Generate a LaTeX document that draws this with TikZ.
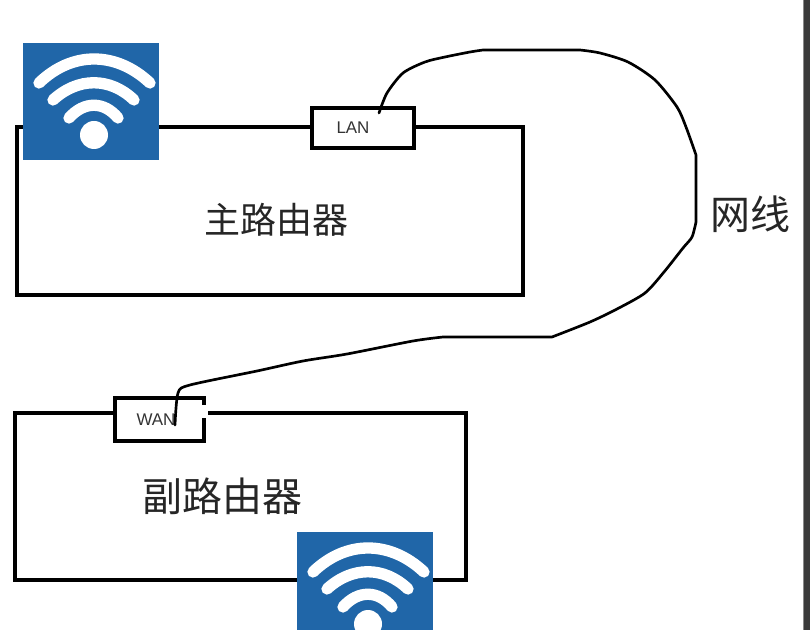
\documentclass[tikz,border=0pt]{standalone}
\usepackage{fontspec}
\newfontfamily\cjk{Noto Sans CJK SC}
\setmainfont{Liberation Sans}
\definecolor{wifiblue}{HTML}{2066A8}
\definecolor{portgray}{HTML}{333333}
\definecolor{stripdark}{HTML}{3A3A3A}
\definecolor{stripedge}{HTML}{8A8A8A}
\tikzset{
  routerbox/.style={draw=black,line width=3pt,fill=white,rectangle,inner sep=0pt},
  portbox/.style={draw=black,line width=3.4pt,fill=white,rectangle,inner sep=0pt},
  porttext/.style={text=portgray,font=\fontsize{12.7pt}{14pt}\selectfont,inner sep=0pt},
  bigtext/.style={text=black!85,inner sep=0pt},
  cable/.style={draw=black,line width=2pt,line cap=round,line join=round},
  wave/.style={draw=white,line width=8.5pt,line cap=round},
  wifiicon/.pic={
    \fill[wifiblue] (-71,-92) rectangle (65,25);
    \fill[white] (0,0) circle (14);
    \draw[wave] (-55,-52) .. controls (-22,-84) and (22,-84) .. (56,-52);
    \draw[wave] (-41,-35) .. controls (-16,-58) and (16,-58) .. (40,-35);
    \draw[wave] (-25,-17) .. controls (-10,-34) and (10,-34) .. (24,-17);
  }
}
\begin{document}
\begin{tikzpicture}[x=0.75pt,y=-0.75pt]
\useasboundingbox (0,0) rectangle (810,630);
\clip (0,0) rectangle (810,630);
\fill[white] (0,0) rectangle (810,630);
\fill[stripdark] (803,0) rectangle (810,630);
\fill[stripedge] (803,0) rectangle (804,630);
% routers
\node[routerbox,minimum width=379.5pt,minimum height=126pt] (mainrouter) at (270,211) {};
\node[routerbox,minimum width=338.25pt,minimum height=125.25pt] (subrouter) at (240.5,496.5) {};
% ports
\node[portbox,minimum width=76.5pt,minimum height=30pt] (lanbox) at (363,128) {};
\node[portbox,minimum width=66.75pt,minimum height=32.25pt] (wanbox) at (159.5,419.5) {};
\fill[white] (202,405) rectangle (208,418);
\node[porttext] (lantext) at (353,128) {LAN};
\node[porttext] (wantext) at (156,420) {WAN};
% icons
\pic at (94,135) {wifiicon};
\pic at (368,624) {wifiicon};
% cable
\coordinate (lanport) at (379,113);
\coordinate (wanport) at (175,425);
\draw[cable] plot[smooth,tension=0.45] coordinates {(lanport) (387,93) (403,73) (425,62) (445,57) (470,52) (483,50)}
  -- plot[smooth,tension=0.45] coordinates {(580,50) (600,53) (628,62) (655,80) (677,107) (686,127) (696,155)}
  -- plot[smooth,tension=0.45] coordinates {(696,222) (692,237) (683,248) (664,272) (645,293) (617,309) (590,322) (552,337)}
  -- plot[smooth,tension=0.45] coordinates {(443,337) (413,341) (347,354) (303,361) (257,371) (190,385) (178,393) (wanport)};
% labels
\node[bigtext,font=\cjk\fontsize{27pt}{30pt}\selectfont] (maintext) at (276.5,220) {主路由器};
\node[bigtext,font=\cjk\fontsize{30pt}{33pt}\selectfont] (subtext) at (222,496) {副路由器};
\node[bigtext,font=\cjk\fontsize{30pt}{33pt}\selectfont] (cabletext) at (750,214) {网线};
\end{tikzpicture}
\end{document}
